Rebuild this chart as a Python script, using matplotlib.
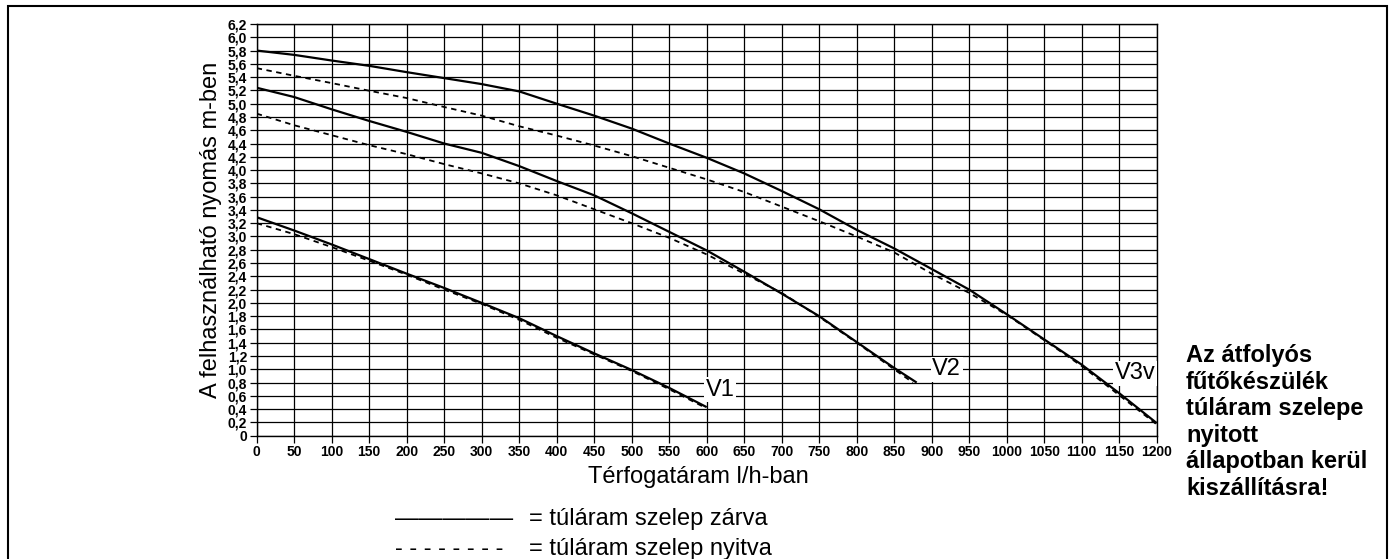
import numpy as np
import matplotlib
matplotlib.use("Agg")
import matplotlib.pyplot as plt
from matplotlib.patches import Rectangle

plt.rcParams["font.family"] = ["Liberation Sans", "DejaVu Sans"]

W, H = 1393, 559

# Térfogatáram (l/h) és nyomás (m) értékek, leolvasva az ábráról
flow_v3 = [0, 50, 100, 150, 200, 250, 300, 350, 400, 450, 500, 550, 600,
           650, 700, 750, 800, 850, 900, 950, 1000, 1050, 1100, 1150, 1200]
v3_closed = [5.8, 5.735, 5.65, 5.57, 5.475, 5.385, 5.295, 5.185, 5.0, 4.82,
             4.625, 4.40, 4.185, 3.95, 3.685, 3.41, 3.1, 2.82, 2.51, 2.2,
             1.83, 1.45, 1.07, 0.64, 0.19]
v3_open = [5.535, 5.42, 5.31, 5.195, 5.085, 4.95, 4.82, 4.66, 4.52, 4.37,
           4.21, 4.035, 3.86, 3.67, 3.45, 3.23, 3.0, 2.76, 2.44, 2.15,
           1.82, 1.44, 1.05, 0.61, 0.17]

flow_v2 = [0, 50, 100, 150, 200, 250, 300, 350, 400, 450, 500, 550, 600,
           650, 700, 750, 800, 850, 880]
v2_closed = [5.24, 5.1, 4.915, 4.74, 4.575, 4.4, 4.26, 4.06, 3.835, 3.62,
             3.35, 3.07, 2.79, 2.47, 2.14, 1.8, 1.41, 1.02, 0.8]
flow_v2_open = [0, 50, 100, 150, 200, 250, 300, 350, 400, 450, 500, 550,
                600, 650, 700, 750, 800, 850, 875]
v2_open = [4.85, 4.675, 4.525, 4.375, 4.24, 4.09, 3.95, 3.8, 3.62, 3.41,
           3.2, 2.98, 2.73, 2.44, 2.15, 1.79, 1.40, 1.0, 0.8]

flow_v1 = [0, 50, 100, 150, 200, 250, 300, 350, 400, 450, 500, 550, 600]
v1_closed = [3.29, 3.09, 2.88, 2.66, 2.44, 2.225, 2.0, 1.77, 1.5, 1.24,
             0.99, 0.72, 0.43]
flow_v1_open = [0, 50, 100, 150, 200, 250, 300, 350, 400, 450, 500, 550, 595]
v1_open = [3.2, 3.035, 2.84, 2.635, 2.425, 2.2, 1.985, 1.745, 1.475, 1.225,
           0.975, 0.70, 0.44]

x_ticks = list(range(0, 1201, 50))
y_ticks = [round(v * 0.2, 1) for v in range(32)]
y_labels = ["0"] + [f"{v:.1f}".replace(".", ",") for v in y_ticks[1:]]

curve_labels = [("V1", 618, 0.69), ("V2", 920, 1.0), ("V3v", 1171, 0.94)]


def fx(x):
    return x / W


def fy(y):
    return 1 - y / H


fig = plt.figure(figsize=(W / 100, H / 100), dpi=100)
ax = fig.add_axes([fx(256.7), fy(435.7), 900 / W, 411.7 / H])

for fl, cl in [(flow_v3, v3_closed), (flow_v2, v2_closed), (flow_v1, v1_closed)]:
    ax.plot(fl, cl, color="black", lw=1.6, solid_capstyle="butt", zorder=3)
dash = (0, (3, 2.5))
ax.plot(flow_v3, v3_open, color="black", lw=1.3, ls=dash, zorder=3)
ax.plot(flow_v2_open, v2_open, color="black", lw=1.3, ls=dash, zorder=3)
ax.plot(flow_v1_open, v1_open, color="black", lw=1.3, ls=dash, zorder=3)

for txt, x, y in curve_labels:
    ax.text(x, y, txt, fontsize=17, ha="center", va="center", zorder=4,
            bbox=dict(facecolor="white", edgecolor="none", pad=1))

ax.set_xlim(0, 1200)
ax.set_ylim(0, 6.2)
ax.set_xticks(x_ticks)
ax.set_xticklabels([str(v) for v in x_ticks])
ax.set_yticks(y_ticks)
ax.set_yticklabels(y_labels)
ax.grid(True, color="black", lw=0.9)
ax.set_axisbelow(True)
for s in ax.spines.values():
    s.set_linewidth(1.0)
ax.tick_params(direction="out", length=5, width=0.9, pad=2)
for lab in ax.get_xticklabels() + ax.get_yticklabels():
    lab.set_family(["Liberation Sans Narrow", "Liberation Sans", "DejaVu Sans"])
    lab.set_fontsize(10)
    lab.set_fontweight("bold")

ax.set_ylabel("A felhasználható nyomás m-ben", fontsize=17, labelpad=4)

fig.text(fx(698), fy(477), "Térfogatáram l/h-ban", fontsize=17,
         ha="center", va="center")
fig.text(fx(395), fy(519), "—————", fontsize=17, ha="left", va="center")
fig.text(fx(529), fy(519), "= túláram szelep zárva", fontsize=17,
         ha="left", va="center")
fig.text(fx(395), fy(549), "- - - - - - - -", fontsize=17, ha="left", va="center")
fig.text(fx(529), fy(549), "= túláram szelep nyitva", fontsize=17,
         ha="left", va="center")

note = "Az átfolyós\nfűtőkészülék\ntúláram szelepe\nnyitott\nállapotban kerül\nkiszállításra!"
fig.text(fx(1186), fy(344), note, fontsize=17, fontweight="bold",
         ha="left", va="top", linespacing=1.2)

fig.patches.append(Rectangle((fx(8), -0.05), (1387 - 8) / W, fy(6) + 0.05,
                             transform=fig.transFigure, fill=False,
                             edgecolor="black", lw=1.5))

fig.savefig("out.png", dpi=100)
